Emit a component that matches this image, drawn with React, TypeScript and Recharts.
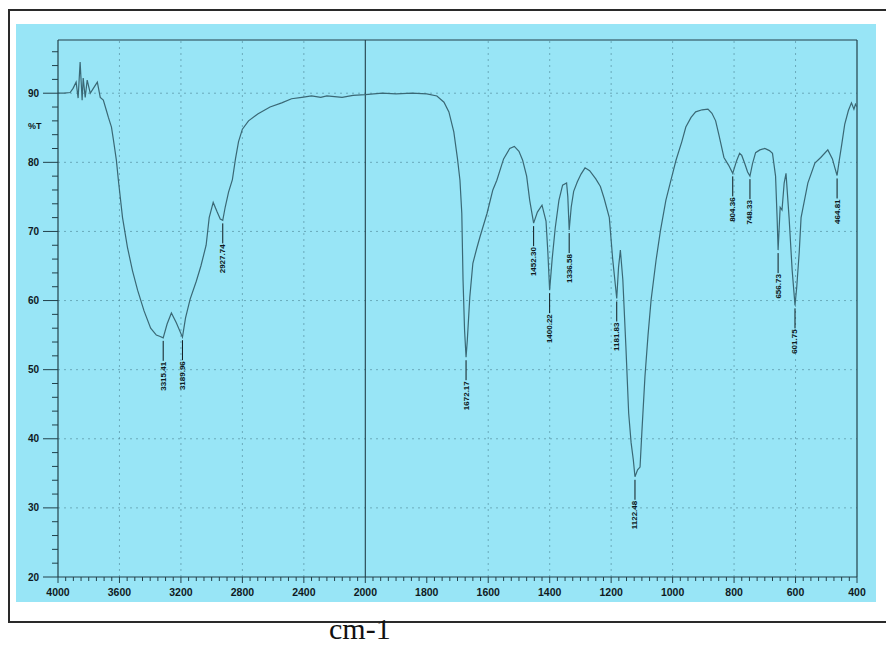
import { ComposedChart, Line, Scatter, XAxis, YAxis, ReferenceLine } from 'recharts'

// FTIR spectrum, %T vs wavenumber (cm-1), scale changes at 2000
const WAVENUMBER = [
  4000, 3960, 3921, 3902, 3882, 3869, 3856, 3843, 3836, 3823, 3810, 3790, 3770, 3744, 3725, 3705,
  3685, 3672, 3652, 3639, 3620, 3607, 3580, 3548, 3515, 3482, 3440, 3397, 3360, 3335, 3315.41, 3290,
  3262, 3230, 3189.96, 3170, 3140, 3100, 3070, 3036, 3016, 2990, 2964, 2944, 2927.74, 2912, 2890, 2865,
  2845, 2825, 2800, 2760, 2700, 2620, 2544, 2480, 2413, 2350, 2290, 2250, 2200, 2151, 2080, 2000,
  1945, 1900, 1848, 1800, 1767, 1744, 1728, 1712, 1700, 1692, 1686, 1682, 1677, 1672.17, 1668, 1660,
  1650, 1637, 1627, 1604, 1585, 1572, 1550, 1530, 1515, 1500, 1488, 1475, 1465, 1452.3, 1440, 1425,
  1412, 1406, 1400.22, 1392, 1382, 1370, 1358, 1345, 1341, 1336.58, 1330, 1322, 1310, 1298, 1285, 1270,
  1250, 1235, 1223, 1206, 1195, 1181.83, 1176, 1170, 1162, 1152, 1143, 1135, 1128, 1122.48, 1114, 1106,
  1100, 1090, 1080, 1070, 1054, 1040, 1022, 1005, 989, 970, 957, 940, 925, 904, 885, 872,
  860, 849, 833, 818, 804.36, 792, 782, 775, 765, 756, 748.33, 740, 730, 716, 700, 685,
  675, 665, 660, 656.73, 650, 644, 637, 631, 621, 611, 601.75, 596, 588, 582, 560, 537,
  518, 495, 480, 472, 464.81, 457, 450, 440, 428, 418, 410, 405, 400,
]
const TRANSMITTANCE = [
  90.0, 90.0, 90.1, 90.7, 91.6, 89.3, 94.5, 89.0, 92.2, 89.4, 91.9, 90.0, 90.7, 91.6, 89.4, 89.0,
  87.5, 86.5, 85.1, 83.2, 80.3, 77.4, 72.0, 67.7, 64.3, 61.5, 58.5, 56.0, 55.0, 54.8, 54.6, 56.6,
  58.2, 56.8, 54.7, 57.5, 60.2, 62.8, 65.0, 68.0, 72.0, 74.2, 72.8, 71.8, 71.6, 73.5, 75.7, 77.5,
  80.5, 83.0, 84.8, 86.0, 87.0, 88.0, 88.6, 89.2, 89.4, 89.6, 89.4, 89.6, 89.5, 89.4, 89.7, 89.8,
  90.0, 89.9, 90.0, 89.9, 89.6, 88.7, 87.3, 84.4, 80.5, 77.4, 72.6, 63.0, 55.7, 51.8, 54.3, 60.5,
  65.4, 67.6, 69.2, 72.6, 76.0, 77.4, 80.5, 82.0, 82.3, 81.6, 80.3, 78.0, 74.5, 71.2, 72.8, 73.8,
  71.5, 67.0, 61.5, 66.0, 70.5, 74.5, 76.7, 77.0, 75.0, 70.2, 73.5, 75.8, 77.2, 78.3, 79.2, 78.8,
  77.6, 76.5, 74.8, 72.0, 66.0, 60.3, 64.8, 67.3, 63.0, 53.3, 43.7, 39.4, 37.0, 34.5, 35.5, 35.9,
  41.0, 49.0, 55.0, 60.1, 65.8, 70.0, 74.5, 77.5, 80.3, 83.0, 85.1, 86.5, 87.3, 87.6, 87.7, 87.1,
  86.0, 83.9, 80.7, 79.6, 78.4, 80.2, 81.3, 81.0, 79.8, 78.6, 78.0, 79.8, 81.4, 81.8, 82.0, 81.7,
  81.3, 78.0, 72.0, 67.3, 73.5, 73.1, 77.0, 78.4, 72.0, 64.4, 59.3, 62.0, 67.0, 72.0, 77.0, 79.9,
  80.7, 81.8, 80.5, 79.2, 78.1, 80.5, 82.5, 85.5, 87.5, 88.6, 87.7, 88.4, 88.0,
]

const PEAK_WN = [3315.41, 3189.96, 2927.74, 1672.17, 1452.3, 1400.22, 1336.58, 1181.83, 1122.48, 804.36, 748.33, 656.73, 601.75, 464.81]
const PEAK_T = [54.6, 54.7, 71.6, 51.8, 71.2, 61.5, 70.2, 60.3, 34.5, 78.4, 78.0, 67.3, 59.3, 78.1]

const X_LABELS = [4000, 3600, 3200, 2800, 2400, 2000, 1800, 1600, 1400, 1200, 1000, 800, 600, 400]
const Y_LABELS = [20, 30, 40, 50, 60, 70, 80, 90]
const GRID_WN = [3600, 3200, 2800, 2400, 1600, 1400, 1200, 1000, 800, 600]
const GRID_T = [30, 40, 50, 60, 70, 80, 90]
const Y_MIN = 20
const Y_MAX = 97.7

const BG = '#98e5f6'
const CURVE = '#3a6875'
const AXIS = '#22404a'
const GRID = '#4d8494'
const INK = '#0f1a1e'
const FONT = "'Liberation Sans', Arial, sans-serif"

// 4000-2000 is drawn at half the scale of 2000-400
const toU = (w: number) => (w >= 2000 ? (4000 - w) / 2 : 1000 + (2000 - w))
const toW = (u: number) => (u <= 1000 ? 4000 - 2 * u : 2000 - (u - 1000))

const spectrum = WAVENUMBER.map((w, i) => ({ u: toU(w), t: TRANSMITTANCE[i] }))
const peaks = PEAK_WN.map((w, i) => ({ u: toU(w), t: PEAK_T[i], name: w.toFixed(2) }))

const xTicks: number[] = []
for (let u = 0; u <= 2600; u += 25) xTicks.push(u)
const yTicks: number[] = []
for (let v = Y_MIN; v <= 96; v += 2) yTicks.push(v)

const XTick = ({ x, y, payload }: any) => {
  const w = Math.round(toW(payload.value))
  const major = X_LABELS.includes(w)
  return (
    <g>
      <line x1={x} y1={y} x2={x} y2={y + (major ? 6 : 4)} stroke={AXIS} strokeWidth={1} />
      {major && (
        <text x={x} y={y + 19} textAnchor="middle" fontSize={10.5} fontWeight="bold" fontFamily={FONT} fill={INK}>
          {w}
        </text>
      )}
    </g>
  )
}

const YTick = ({ x, y, payload }: any) => {
  const major = Y_LABELS.includes(payload.value)
  return (
    <g>
      <line x1={x} y1={y} x2={x - (major ? 15 : 6)} y2={y} stroke={AXIS} strokeWidth={1} />
      {major && (
        <text x={x - 19} y={y} textAnchor="end" dominantBaseline="central" fontSize={10} fontWeight="bold" fontFamily={FONT} fill={INK}>
          {payload.value}
        </text>
      )}
    </g>
  )
}

const PeakMark = ({ cx, cy, payload }: any) => {
  const top = cy + 3
  const textTop = top + 20
  return (
    <g>
      <line x1={cx} y1={top} x2={cx} y2={textTop} stroke={INK} strokeWidth={1} />
      <text
        x={cx}
        y={textTop + 1}
        transform={`rotate(-90 ${cx} ${textTop + 1})`}
        textAnchor="end"
        dominantBaseline="central"
        fontSize={8}
        fontWeight="bold"
        fontFamily={FONT}
        fill={INK}
      >
        {payload.name}
      </text>
    </g>
  )
}

export default function App() {
  return (
    <div style={{ position: 'relative', width: 886, height: 638 }}>
      <style>{'html,body{overflow:hidden}'}</style>
      <div
        style={{
          position: 'absolute', left: 0, top: 1, width: 886, height: 610,
          borderTop: '2px solid #2a2a2a', borderLeft: '2px solid #2a2a2a', borderBottom: '2px solid #2a2a2a',
          background: '#fff',
        }}
      />
      <div style={{ position: 'absolute', left: 8, top: 16, width: 860, height: 578, background: BG }}>
        <ComposedChart width={860} height={578} margin={{ top: 16, right: 19, left: 0, bottom: 0 }}>
          <XAxis
            dataKey="u" type="number" domain={[0, 2600]} ticks={xTicks} interval={0}
            tick={<XTick />} tickLine={false} tickSize={0} tickMargin={0} height={25}
            axisLine={{ stroke: AXIS, strokeWidth: 1.2 }} allowDataOverflow
          />
          <YAxis
            type="number" domain={[Y_MIN, Y_MAX]} ticks={yTicks} interval={0}
            tick={<YTick />} tickLine={false} tickSize={0} tickMargin={0} width={42}
            axisLine={{ stroke: AXIS, strokeWidth: 1.2 }} allowDataOverflow
          />
          {GRID_T.map((v) => (
            <ReferenceLine key={`h${v}`} y={v} stroke={GRID} strokeDasharray="2 4" strokeOpacity={0.6} />
          ))}
          {GRID_WN.map((w) => (
            <ReferenceLine key={`v${w}`} x={toU(w)} stroke={GRID} strokeDasharray="2 4" strokeOpacity={0.6} />
          ))}
          <ReferenceLine x={1000} stroke={AXIS} strokeWidth={1.1} />
          <ReferenceLine y={Y_MAX} stroke={AXIS} strokeWidth={1.2} />
          <ReferenceLine x={2600} stroke={AXIS} strokeWidth={1.2} />
          <Line
            data={spectrum} dataKey="t" type="linear" stroke={CURVE} strokeWidth={1.2}
            dot={false} activeDot={false} isAnimationActive={false}
          />
          <Scatter data={peaks} dataKey="t" shape={<PeakMark />} isAnimationActive={false} />
        </ComposedChart>
        <div
          style={{
            position: 'absolute', left: 12, top: 97, fontSize: 9, fontWeight: 'bold',
            fontFamily: FONT, color: INK,
          }}
        >
          %T
        </div>
      </div>
      <div
        style={{
          position: 'absolute', left: 321, top: 604, fontSize: 30,
          fontFamily: "'Liberation Serif', 'Times New Roman', serif", color: '#111',
        }}
      >
        cm-1
      </div>
    </div>
  )
}
